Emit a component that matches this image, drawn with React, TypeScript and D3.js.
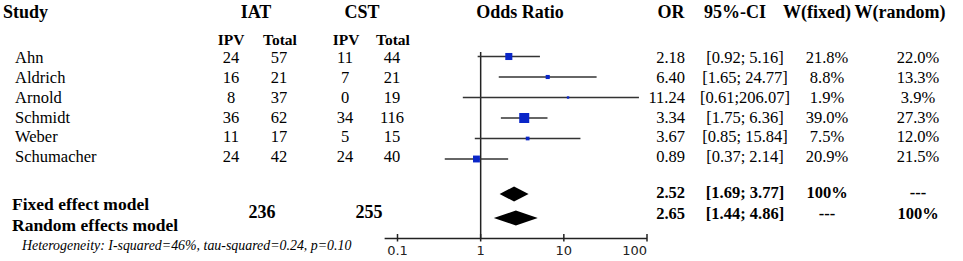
import React from 'react';
import * as d3 from 'd3';

const studies = ['Ahn', 'Aldrich', 'Arnold', 'Schmidt', 'Weber', 'Schumacher'];
const iatIPV = [24, 16, 8, 36, 11, 24];
const iatTotal = [57, 21, 37, 62, 17, 42];
const cstIPV = [11, 7, 0, 34, 5, 24];
const cstTotal = [44, 21, 19, 116, 15, 40];
const oddsRatio = [2.18, 6.40, 11.24, 3.34, 3.67, 0.89];
const ciLow = [0.92, 1.65, 0.61, 1.75, 0.85, 0.37];
const ciHigh = [5.16, 24.77, 206.07, 6.36, 15.84, 2.14];
const wFixed = [21.8, 8.8, 1.9, 39.0, 7.5, 20.9];
const wRandom = [22.0, 13.3, 3.9, 27.3, 12.0, 21.5];

const models = ['Fixed effect model', 'Random effects model'];
const modelOR = [2.52, 2.65];
const modelLow = [1.69, 1.44];
const modelHigh = [3.77, 4.86];
const modelWFixed = ['100%', '---'];
const modelWRandom = ['---', '100%'];
const totalIAT = 236;
const totalCST = 255;

const axisTicks = [0.1, 1, 10, 100];
const axisStart = 0.07;
const clipMax = 80;
const heterogeneity = 'Heterogeneity: I-squared=46%, tau-squared=0.24, p=0.10';

const W = 963;
const H = 261;
const serif = "'Liberation Serif', 'Times New Roman', Times, serif";
const sans = "'DejaVu Sans', sans-serif";

export default function App() {
  const x = d3.scaleLog().domain([0.1, 100]).range([397.5, 647]);
  const rowText = d3.scaleLinear().domain([0, 5]).range([58, 156.8]);
  const rowMark = d3.scaleLinear().domain([0, 5]).range([56.5, 159]);
  const modelRight = d3.scaleLinear().domain([0, 1]).range([193, 214]);
  const modelDiamond = d3.scaleLinear().domain([0, 1]).range([194, 218]);
  const modelLeftBase = d3.scaleLinear().domain([0, 1]).range([209.5, 231]);
  const sq = d3.scalePow().exponent(0.6).domain([0, d3.max(wFixed) as number]).range([0, 10]);
  const f2 = d3.format('.2f');
  const f1 = d3.format('.1f');
  const ciText = (lo: number, hi: number) => `[${f2(lo)};${hi >= 100 ? '' : ' '}${f2(hi)}]`;
  const axisY = 238.5;
  const refTop = 52;
  const blue = '#0a26c8';

  const base = (c: number, fs: number) => c + fs * 0.33;

  return (
    <svg width={W} height={H} style={{ position: 'absolute', left: 0, top: 0, background: '#fff', fontFamily: serif }}>
      <rect x={0} y={0} width={W} height={H} fill="#fff" />
      {/* headers */}
      <g fontWeight="bold" fontSize={18} fill="#000">
        <text x={3} y={17.5}>Study</text>
        <text x={256} y={17.5} textAnchor="middle">IAT</text>
        <text x={362} y={17.5} textAnchor="middle">CST</text>
        <text x={520} y={17.5} textAnchor="middle">Odds Ratio</text>
        <text x={671} y={17.5} textAnchor="middle">OR</text>
        <text x={735} y={17.5} textAnchor="middle">95%-CI</text>
        <text x={817} y={17.5} textAnchor="middle">W(fixed)</text>
        <text x={900} y={17.5} textAnchor="middle">W(random)</text>
      </g>
      <g fontWeight="bold" fontSize={15.5} textAnchor="middle">
        <text x={231} y={45}>IPV</text>
        <text x={280} y={45}>Total</text>
        <text x={346} y={45}>IPV</text>
        <text x={393} y={45}>Total</text>
      </g>
      {/* study rows text */}
      <g fontSize={16.5}>
        {studies.map((s, i) => {
          const y = base(rowText(i), 16.5);
          return (
            <g key={s}>
              <text x={15} y={y}>{s}</text>
              <text x={231} y={y} textAnchor="middle">{iatIPV[i]}</text>
              <text x={279} y={y} textAnchor="middle">{iatTotal[i]}</text>
              <text x={345} y={y} textAnchor="middle">{cstIPV[i]}</text>
              <text x={392} y={y} textAnchor="middle">{cstTotal[i]}</text>
              <text x={685} y={y} textAnchor="end">{f2(oddsRatio[i])}</text>
              <text x={745} y={y} textAnchor="middle">{ciText(ciLow[i], ciHigh[i])}</text>
              <text x={827} y={y} textAnchor="middle">{f1(wFixed[i]) + '%'}</text>
              <text x={918} y={y} textAnchor="middle">{f1(wRandom[i]) + '%'}</text>
            </g>
          );
        })}
      </g>
      {/* model rows */}
      <g fontWeight="bold">
        {models.map((m, i) => {
          const y = base(modelRight(i), 16.5);
          return (
            <g key={m}>
              <text x={12} y={modelLeftBase(i)} fontSize={17.5}>{m}</text>
              <text x={685} y={y} fontSize={16.5} textAnchor="end">{f2(modelOR[i])}</text>
              <text x={745} y={y} fontSize={16.5} textAnchor="middle">{ciText(modelLow[i], modelHigh[i])}</text>
              <text x={827} y={y} fontSize={16.5} textAnchor="middle">{modelWFixed[i]}</text>
              <text x={918} y={y} fontSize={16.5} textAnchor="middle">{modelWRandom[i]}</text>
            </g>
          );
        })}
        <text x={262} y={218} fontSize={18} textAnchor="middle">{totalIAT}</text>
        <text x={369} y={218} fontSize={18} textAnchor="middle">{totalCST}</text>
      </g>
      <text x={22} y={250} fontSize={13.9} fontStyle="italic">{heterogeneity}</text>

      {/* reference line at OR = 1 */}
      <line x1={x(1)} x2={x(1)} y1={refTop} y2={axisY} stroke="#222" strokeWidth={1.5} />
      {/* CI lines and squares */}
      {studies.map((s, i) => {
        const y = rowMark(i);
        const s2 = Math.max(2.4, sq(wFixed[i]));
        return (
          <g key={s}>
            <line x1={x(ciLow[i])} x2={x(Math.min(ciHigh[i], clipMax))} y1={y} y2={y}
              stroke="#333" strokeWidth={1.4} />
            <rect x={x(oddsRatio[i]) - s2 / 2} y={y - s2 / 2} width={s2} height={s2} fill={blue} />
          </g>
        );
      })}
      {/* diamonds */}
      {models.map((m, i) => {
        const y = modelDiamond(i);
        const h = 7.5;
        const pts = [[x(modelLow[i]), y], [x(modelOR[i]), y - h], [x(modelHigh[i]), y], [x(modelOR[i]), y + h]];
        return <polygon key={m} points={pts.map(p => p.join(',')).join(' ')} fill="#000" />;
      })}
      {/* axis */}
      <line x1={x(axisStart)} x2={x(100)} y1={axisY} y2={axisY} stroke="#222" strokeWidth={1.5} />
      {axisTicks.map((t, i) => (
        <g key={t}>
          <line x1={x(t)} x2={x(t)} y1={axisY - 4.5} y2={axisY + 3} stroke="#222" strokeWidth={1.5} />
          <text x={x(t)} y={axisY + 16.5} style={{ fontFamily: sans }} fontSize={13}
            textAnchor={i === axisTicks.length - 1 ? 'end' : 'middle'} fill="#222">{String(t)}</text>
        </g>
      ))}
    </svg>
  );
}
